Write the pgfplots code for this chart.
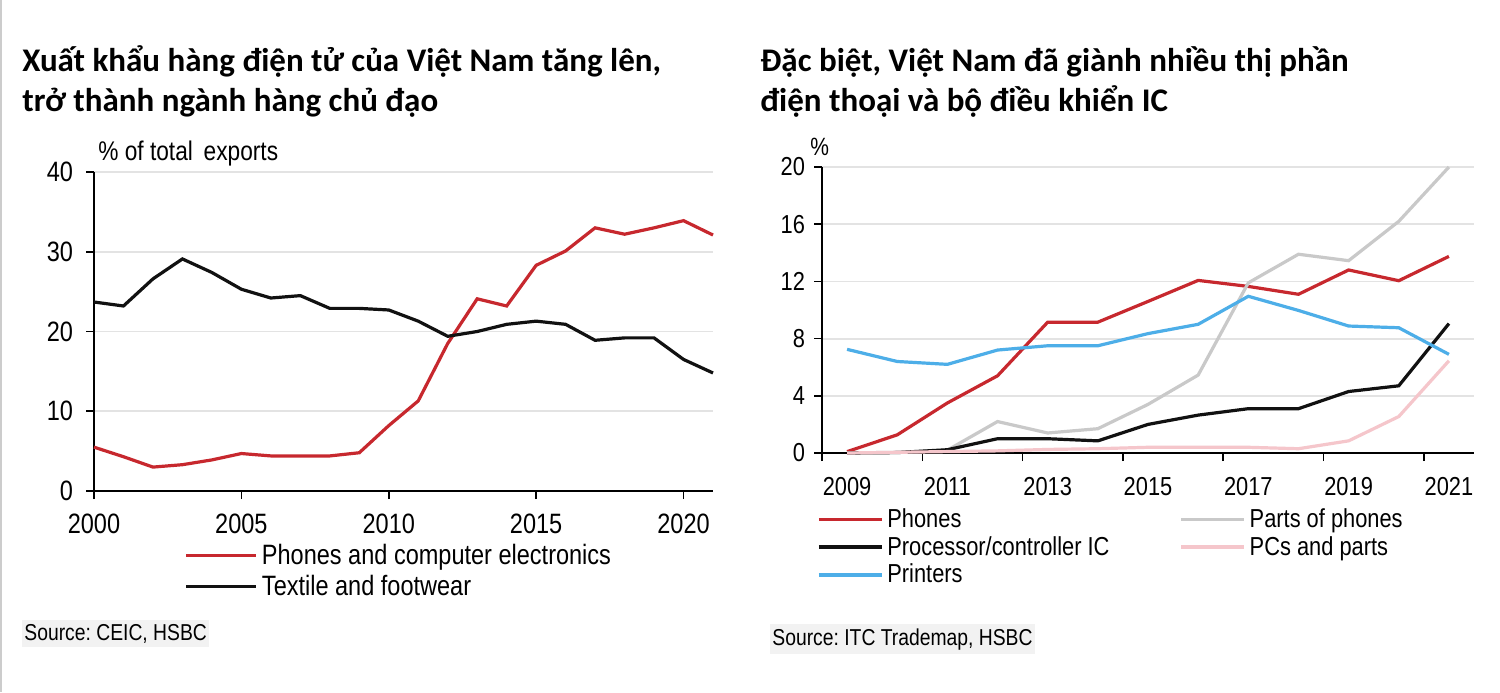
\documentclass[border=0pt]{standalone}
\usepackage{pgfplots}
\pgfplotsset{compat=1.18}
\usepackage{fontspec}
\setmainfont{Liberation Sans}
\newfontfamily\titlefont{Carlito}
\newfontfamily\nar[FakeStretch=0.84]{Liberation Sans}
\frenchspacing
\definecolor{hred}{HTML}{C7282E}
\definecolor{hblk}{HTML}{111111}
\definecolor{hblue}{HTML}{4DAEE8}
\definecolor{hgray}{HTML}{C9C9C9}
\definecolor{hpink}{HTML}{F5C6CB}
\definecolor{srcbg}{HTML}{F2F2F2}
\pgfplotsset{
  mystyle/.style={
    scale only axis,
    axis x line*=bottom, axis y line*=left,
    axis line style={line width=1pt,-},
    tick style={line width=0.8pt, black},
    tick align=outside,
    major tick length=4pt,
    ymajorgrids,
    grid style={gray!22, line width=0.9pt},
    /pgf/number format/assume math mode=true,
    /pgf/number format/1000 sep={},
    clip=false,
    legend cell align=left,
    legend style={draw=none, fill=none, inner sep=0pt, row sep=0pt},
  }
}
\begin{document}
\begin{tikzpicture}
\useasboundingbox (0,0) rectangle (750pt,-346pt);
\fill[white] (0,0) rectangle (750pt,-346pt);
\draw[gray!40, line width=1pt] (0.5pt,0) -- (0.5pt,-346pt);

\node[anchor=base west, inner sep=0pt, font=\titlefont\bfseries\fontsize{16.5}{19}\selectfont] at (11pt,-35.5pt) {Xuất khẩu hàng điện tử của Việt Nam tăng lên,};
\node[anchor=base west, inner sep=0pt, font=\titlefont\bfseries\fontsize{16.5}{19}\selectfont] at (11pt,-55.5pt) {trở thành ngành hàng chủ đạo};
\node[anchor=base west, inner sep=0pt, font=\titlefont\bfseries\fontsize{16.5}{19}\selectfont] at (380pt,-35.5pt) {Đặc biệt, Việt Nam đã giành nhiều thị phần};
\node[anchor=base west, inner sep=0pt, font=\titlefont\bfseries\fontsize{16.5}{19}\selectfont] at (380pt,-55.5pt) {điện thoại và bộ điều khiển IC};

\node[anchor=base west, inner sep=0pt, font=\nar\fontsize{13.5}{15}\selectfont] at (49pt,-80pt) {\% of total\, exports};
\node[anchor=base west, inner sep=0pt, font=\nar\fontsize{12.5}{14}\selectfont] at (405pt,-77.5pt) {\%};

\node[anchor=base west, fill=srcbg, inner xsep=1pt, inner ysep=2pt, font=\nar\fontsize{11.5}{13}\selectfont] at (11pt,-320pt) {Source: CEIC, HSBC};
\node[anchor=base west, fill=srcbg, inner xsep=1pt, inner ysep=2pt, font=\nar\fontsize{11.5}{13}\selectfont] at (385pt,-322.5pt) {Source: ITC Trademap, HSBC};

\begin{axis}[mystyle,
  width=309.5pt, height=159.5pt,
  at={(47pt,-245.5pt)}, anchor=south west,
  xmin=2000, xmax=2021, ymin=0, ymax=40,
  xtick={2000,2005,...,2020}, ytick={0,10,...,40},
  tick label style={font=\nar\fontsize{14}{16}\selectfont},
  yticklabel style={xshift=-3pt},
  xticklabel style={yshift=-4pt},
  legend image code/.code={\draw[#1] (0pt,0pt) -- (35pt,0pt);},
  legend style={at={(0.146,-0.152)}, anchor=north west, font=\nar\fontsize{14}{16}\selectfont},
]
\addplot[hred, line width=1.6pt] coordinates {
(2000,5.5) (2001,4.3) (2002,3.0) (2003,3.3) (2004,3.9) (2005,4.7) (2006,4.4) (2007,4.4) (2008,4.4) (2009,4.8) (2010,8.2) (2011,11.3) (2012,18.5) (2013,24.1) (2014,23.2) (2015,28.3) (2016,30.1) (2017,33.0) (2018,32.2) (2019,33.0) (2020,33.9) (2021,32.1)};
\addlegendentry{Phones and computer electronics}
\addplot[hblk, line width=1.6pt] coordinates {
(2000,23.7) (2001,23.2) (2002,26.6) (2003,29.1) (2004,27.4) (2005,25.3) (2006,24.2) (2007,24.5) (2008,22.9) (2009,22.9) (2010,22.7) (2011,21.3) (2012,19.4) (2013,20.0) (2014,20.9) (2015,21.3) (2016,20.9) (2017,18.9) (2018,19.2) (2019,19.2) (2020,16.5) (2021,14.8)};
\addlegendentry{Textile and footwear}
\end{axis}

\begin{axis}[mystyle,
  width=326pt, height=143pt,
  at={(411pt,-226.5pt)}, anchor=south west,
  xmin=2008.5, xmax=2021.5, ymin=0, ymax=20,
  xtick={2008.5,2010.5,...,2020.5},
  xticklabels={2009,2011,2013,2015,2017,2019,2021},
  xticklabel style={xshift=12.54pt, yshift=-4.5pt},
  yticklabel style={xshift=-1pt},
  ytick={0,4,...,20},
  tick label style={font=\nar\fontsize{13}{15}\selectfont},
  legend columns=2,
  legend image code/.code={\draw[#1] (0pt,0pt) -- (31.5pt,0pt);},
  legend style={at={(-0.008,-0.178)}, anchor=north west, font=\nar\fontsize{13}{14}\selectfont,
    row sep=-1pt,
    /tikz/column 2/.style={column sep=33pt}},
]
\addplot[hred, line width=1.6pt] coordinates {
(2009,0.1) (2010,1.27) (2011,3.5) (2012,5.4) (2013,9.15) (2014,9.15) (2015,10.6) (2016,12.07) (2017,11.65) (2018,11.1) (2019,12.8) (2020,12.05) (2021,13.75)};
\addlegendentry{Phones}
\addplot[hgray, line width=1.6pt] coordinates {
(2009,0) (2010,0.05) (2011,0.2) (2012,2.2) (2013,1.4) (2014,1.7) (2015,3.4) (2016,5.45) (2017,11.9) (2018,13.9) (2019,13.45) (2020,16.2) (2021,20.0)};
\addlegendentry{Parts of phones}
\addplot[hblk, line width=1.6pt] coordinates {
(2009,0) (2010,0.03) (2011,0.23) (2012,1.0) (2013,1.0) (2014,0.85) (2015,2.0) (2016,2.65) (2017,3.1) (2018,3.1) (2019,4.3) (2020,4.7) (2021,9.05)};
\addlegendentry{Processor/controller IC}
\addplot[hpink, line width=1.6pt] coordinates {
(2009,0) (2010,0.05) (2011,0.1) (2012,0.15) (2013,0.25) (2014,0.3) (2015,0.4) (2016,0.4) (2017,0.4) (2018,0.3) (2019,0.85) (2020,2.55) (2021,6.45)};
\addlegendentry{PCs and parts}
\addplot[hblue, line width=1.6pt] coordinates {
(2009,7.25) (2010,6.4) (2011,6.2) (2012,7.2) (2013,7.5) (2014,7.5) (2015,8.35) (2016,9.0) (2017,10.96) (2018,9.97) (2019,8.88) (2020,8.76) (2021,6.9)};
\addlegendentry{Printers}
\end{axis}
\end{tikzpicture}
\end{document}
